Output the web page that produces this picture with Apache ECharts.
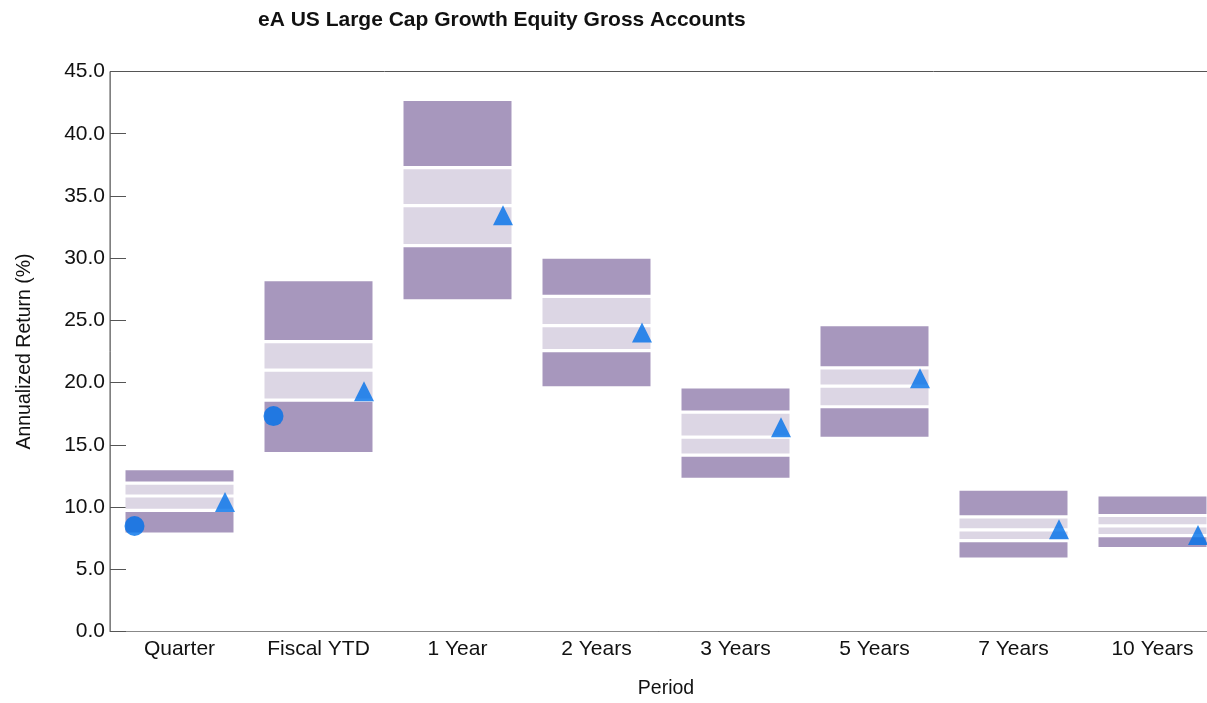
<!DOCTYPE html>
<html>
<head>
<meta charset="utf-8">
<script src="https://cdn.jsdelivr.net/npm/echarts@6/dist/echarts.min.js"></script>
<style>
html,body{margin:0;padding:0;background:#fff;}
#chart{width:1207px;height:703px;}
</style>
</head>
<body>
<div id="chart"></div>
<script>
const categories = ['Quarter','Fiscal YTD','1 Year','2 Years','3 Years','5 Years','7 Years','10 Years'];
const p5     = [7.96, 14.43, 26.69, 19.71, 12.36, 15.65, 5.95, 6.80];
const p25    = [9.74, 18.60, 31.00, 22.57, 14.18, 18.06, 7.31, 7.71];
const median = [10.89, 21.00, 34.23, 24.58, 15.62, 19.71, 8.16, 8.48];
const p75    = [11.93, 23.30, 37.27, 26.93, 17.63, 21.19, 9.21, 9.32];
const p95    = [12.95, 28.15, 42.62, 29.95, 19.53, 24.52, 11.32, 10.84];
const benchmark = [10.41, 19.30, 33.45, 24.02, 16.41, 20.35, 8.22, 7.76];
const portfolio = [8.48, 17.31, null, null, null, null, null, null];
const yTicks = [0, 5, 10, 15, 20, 25, 30, 35, 40, 45];

const DARK = '#A797BD', LIGHT = '#DCD6E4', BLUE = '#0070EA';
const FONT = 'Liberation Sans, Arial, sans-serif';

const boxData = categories.map((c, i) => [i, p5[i], p25[i], median[i], p75[i], p95[i]]);

function renderBox(params, api) {
  const idx = api.value(0);
  const x = api.coord([idx, 0])[0];
  const w = api.size([1, 0])[0] * 0.777;
  const ys = [1, 2, 3, 4, 5].map(k => api.coord([idx, api.value(k)])[1]);
  const half = 1.6;
  const fills = [DARK, LIGHT, LIGHT, DARK];
  const children = [];
  for (let k = 0; k < 4; k++) {
    let yb = ys[k], yt = ys[k + 1];
    if (k > 0) yb -= half;
    if (k < 3) yt += half;
    children.push({
      type: 'rect',
      shape: { x: x - w / 2, y: yt, width: w, height: yb - yt },
      style: { fill: fills[k] }
    });
  }
  return { type: 'group', children };
}

const chart = echarts.init(document.getElementById('chart'), null, { renderer: 'canvas' });
chart.setOption({
  animation: false,
  backgroundColor: '#fff',
  title: {
    text: 'eA US Large Cap Growth Equity Gross Accounts',
    left: 253, top: 5,
    textStyle: { fontFamily: FONT, fontSize: 21, fontWeight: 'bold', color: '#111' }
  },
  grid: {
    left: 110, top: 71.5, width: 1112, height: 560,
    show: true, borderColor: '#555', borderWidth: 1,
    outerBoundsMode: 'none', containLabel: false
  },
  xAxis: {
    type: 'category',
    data: categories,
    boundaryGap: true,
    name: 'Period',
    nameLocation: 'middle',
    nameGap: 47,
    nameTextStyle: { fontFamily: FONT, fontSize: 19.5, color: '#111' },
    axisLine: { show: true, lineStyle: { color: '#888', width: 1 } },
    axisTick: { show: false },
    axisLabel: { fontFamily: FONT, fontSize: 21, color: '#111', margin: 7, interval: 0 },
    splitLine: { show: false }
  },
  yAxis: {
    type: 'value',
    min: yTicks[0], max: yTicks[yTicks.length - 1], interval: 5,
    name: 'Annualized Return (%)',
    nameLocation: 'middle',
    nameRotate: 90,
    nameGap: 75,
    nameTextStyle: { fontFamily: FONT, fontSize: 19.5, color: '#111' },
    axisLine: { show: true, lineStyle: { color: '#808080', width: 1 } },
    axisTick: { show: true, inside: true, length: 16, lineStyle: { color: '#555' } },
    axisLabel: { fontFamily: FONT, fontSize: 21, color: '#111', margin: 5, formatter: v => v.toFixed(1) },
    splitLine: { show: false }
  },
  series: [
    {
      type: 'custom',
      renderItem: renderBox,
      data: boxData,
      encode: { x: 0, y: [1, 2, 3, 4, 5] },
      z: 2,
      silent: true
    },
    {
      type: 'scatter',
      data: benchmark,
      symbol: 'triangle',
      symbolSize: [20, 20],
      symbolOffset: [45.5, 0],
      itemStyle: { color: BLUE },
      z: 5,
      silent: true
    },
    {
      type: 'scatter',
      data: portfolio,
      symbol: 'circle',
      symbolSize: 20,
      symbolOffset: [-45, 0],
      itemStyle: { color: BLUE },
      z: 6,
      silent: true
    }
  ]
});
</script>
</body>
</html>
